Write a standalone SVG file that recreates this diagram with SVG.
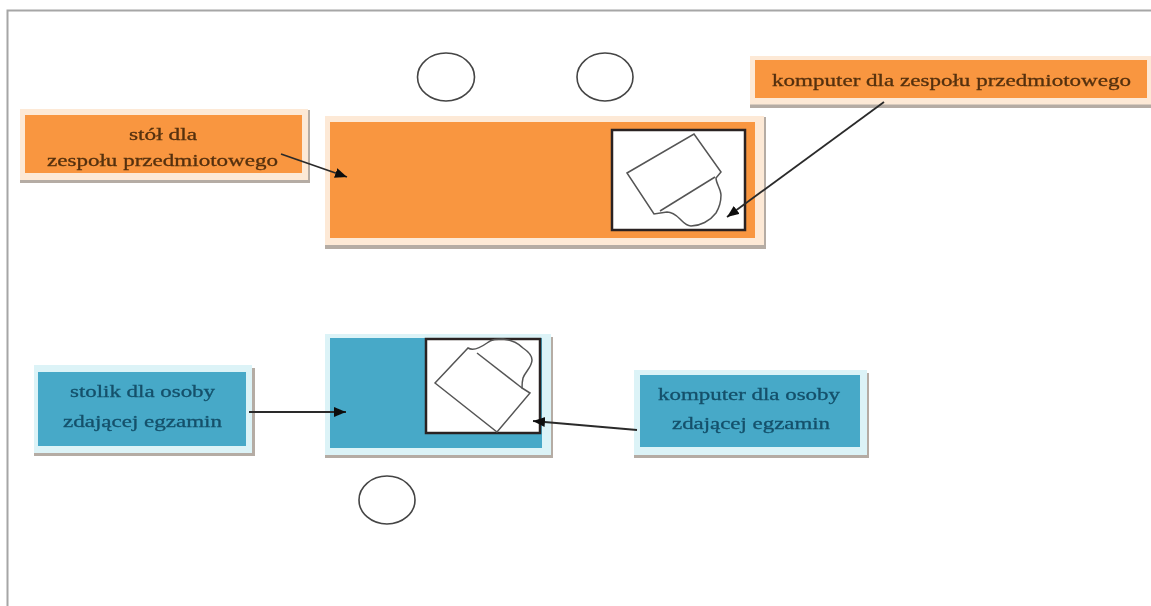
<svg xmlns="http://www.w3.org/2000/svg" width="1151" height="606" viewBox="0 0 1151 606">
<defs>
<marker id="arrow" markerUnits="userSpaceOnUse" markerWidth="14" markerHeight="12" refX="12" refY="5" orient="auto"><path d="M0 0L12 5L0 10Z" fill="#111"/></marker>
<filter id="soft" x="-5%" y="-5%" width="110%" height="110%"><feGaussianBlur stdDeviation="0.7"/></filter>
</defs>
<style>
text{font-family:"Liberation Serif",serif;text-anchor:middle;font-size:17px;fill:#54300f;stroke:#54300f;stroke-width:.3}
.blue text{fill:#14506a;stroke:#14506a}
.oh{fill:#fde9d6}.o{fill:#f9963f}
.bh{fill:#dcf3f7}.b{fill:#46a9c8}
.sh{fill:#b5aca4}
.scr{fill:#fff;stroke:#2c2422;stroke-width:2.5}
.pc{fill:none;stroke:#555;stroke-width:1.5}
.seat{fill:#fff;stroke:#444;stroke-width:1.6}
.ln{fill:none;stroke:#2a2a2a;stroke-width:1.8;marker-end:url(#arrow)}
</style>
<rect width="1151" height="606" fill="#fff"/>
<path d="M7.500 606V10.500H1151" fill="none" stroke="#a6a6a6" stroke-width="2"/>
<g filter="url(#soft)">
<g id="seat-1"><ellipse class="seat" cx="446" cy="77" rx="28.500" ry="24"/></g>
<g id="seat-2"><ellipse class="seat" cx="605" cy="77" rx="28" ry="24"/></g>
<g id="seat-3"><ellipse class="seat" cx="387" cy="500" rx="28" ry="24"/></g>
<g id="table-large">
<rect class="sh" x="325" y="117" width="441" height="132"/>
<rect class="oh" x="325" y="116" width="439" height="129"/>
<rect class="o" x="330" y="122" width="425" height="116"/>
<rect class="scr" x="612" y="130" width="133" height="100"/>
<path class="pc" d="M627 173L694 134L721 172L716 178C716 184 721 189 721 195C721 202 719 208 716 213C710 221 700 226 691 226C686 226 683 222 680 219C676 215 671 212 667 212L654 214Z"/>
<path class="pc" d="M660 211L715 177"/>
</g>
<g id="label-table-large">
<rect class="sh" x="20" y="110" width="290" height="73"/>
<rect class="oh" x="20" y="109" width="288" height="71"/>
<rect class="o" x="25" y="115" width="277" height="58"/>
<text x="163" y="140" textLength="68" lengthAdjust="spacingAndGlyphs">stół dla</text>
<text x="162.500" y="166" textLength="231" lengthAdjust="spacingAndGlyphs">zespołu przedmiotowego</text>
</g>
<g id="label-computer-large">
<rect class="sh" x="750" y="60" width="401" height="48"/>
<rect class="oh" x="750" y="56" width="401" height="48.500"/>
<rect class="o" x="755" y="60" width="392" height="38"/>
<text x="951.500" y="86" textLength="359" lengthAdjust="spacingAndGlyphs">komputer dla zespołu przedmiotowego</text>
</g>
<g id="table-small" class="blue">
<rect class="sh" x="325" y="337" width="228" height="121"/>
<rect class="bh" x="325" y="334" width="226" height="121"/>
<rect class="b" x="330" y="338" width="212" height="110"/>
<rect class="scr" x="426" y="339" width="114" height="94"/>
<path class="pc" d="M435 383L468 348C473 351 480 348 487 343C492 339 497 339 503 339C512 340 519 344 523 348C529 352 532 356 532 360C532 367 525 372 523 378C522 382 522 385 522 388L530 393L497 432Z"/>
<path class="pc" d="M477 353L522 388"/>
</g>
<g id="label-table-small" class="blue">
<rect class="sh" x="34" y="368" width="221" height="88"/>
<rect class="bh" x="34" y="365" width="218" height="88"/>
<rect class="b" x="38" y="372" width="208" height="74"/>
<text x="142.500" y="397" textLength="145" lengthAdjust="spacingAndGlyphs">stolik dla osoby</text>
<text x="142.500" y="427" textLength="159" lengthAdjust="spacingAndGlyphs">zdającej egzamin</text>
</g>
<g id="label-computer-small" class="blue">
<rect class="sh" x="634" y="373" width="235" height="85"/>
<rect class="bh" x="634" y="370" width="233" height="85"/>
<rect class="b" x="640" y="375" width="220" height="72"/>
<text x="749" y="400" textLength="182" lengthAdjust="spacingAndGlyphs">komputer dla osoby</text>
<text x="751" y="429" textLength="158" lengthAdjust="spacingAndGlyphs">zdającej egzamin</text>
</g>
</g>
<g id="connectors" filter="url(#soft)">
<path class="ln" d="M281 154L347 177"/>
<path class="ln" d="M884 102L727 217"/>
<path class="ln" d="M249 412L346 412"/>
<path class="ln" d="M637 430L533 421"/>
</g>
</svg>
